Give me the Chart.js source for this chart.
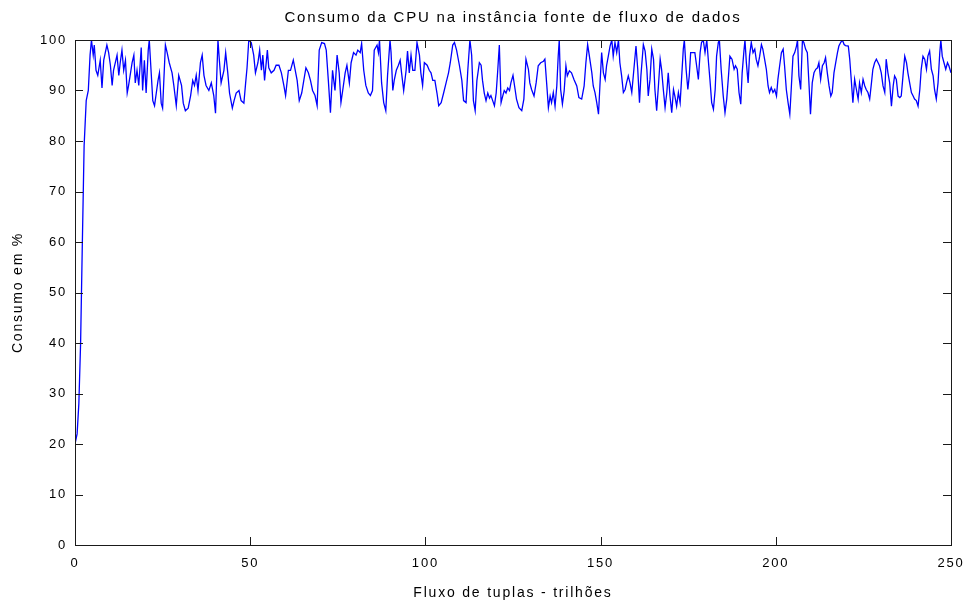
<!DOCTYPE html>
<html>
<head>
<meta charset="utf-8">
<script src="https://cdn.jsdelivr.net/npm/chart.js@4/dist/chart.umd.min.js"></script>
<style>
  html, body { margin: 0; padding: 0; background: #fff; }
  canvas { display: block; }
</style>
</head>
<body>
<canvas id="cpuChart" width="969" height="605"></canvas>
<script>
const chartTitle = 'Consumo da CPU na instância fonte de fluxo de dados';
const xTitle = 'Fluxo de tuplas - trilhões';
const yTitle = 'Consumo em %';

const xTicks = [0, 50, 100, 150, 200, 250];
const yTicks = [0, 10, 20, 30, 40, 50, 60, 70, 80, 90, 100];

// tuple flow (trillions)
const flowValues = [
  0, 0.6, 1.1, 1.6, 2.1, 2.6, 3.2, 3.8, 4.3, 4.7,
  5.2, 5.5, 6, 6.5, 7.2, 7.7, 8.2, 9.1, 9.6, 10.1,
  10.6, 11, 12, 12.5, 12.9, 13.4, 13.9, 14.4, 14.9, 15.3,
  16.3, 16.8, 17.2, 17.7, 18.2, 18.9, 19.3, 19.8, 20.3, 20.9,
  21.2, 21.7, 22.2, 22.7, 23.2, 23.7, 24.1, 24.6, 25, 25.8,
  26.3, 26.9, 27.7, 28.2, 28.9, 29.6, 30.4, 30.9, 31.5, 32.3,
  33, 33.6, 34.1, 34.6, 35.1, 35.8, 36.3, 36.8, 37.4, 38.2,
  38.9, 39.6, 40.1, 40.8, 41.2, 41.7, 42.5, 43, 43.6, 44.1,
  44.9, 45.4, 46, 46.8, 47.4, 48.2, 48.7, 49.1, 49.6, 50.3,
  51, 51.5, 52.2, 52.7, 53.2, 53.6, 54.1, 54.9, 55.3, 56,
  56.8, 57.4, 58.2, 58.9, 59.6, 60.1, 60.9, 61.5, 62.3, 63.4,
  64, 64.7, 65.3, 65.9, 66.6, 67.2, 67.8, 68.5, 69.1, 69.7,
  70.4, 71.2, 71.7, 72.3, 72.9, 73.5, 74.2, 74.8, 75.4, 75.9,
  76.4, 77.1, 77.6, 78.3, 78.8, 79.5, 80.2, 80.7, 81.4, 81.8,
  82.4, 83, 83.7, 84.3, 84.9, 85.4, 86.2, 86.6, 86.9, 87.5,
  88.1, 88.7, 89.2, 89.9, 90.2, 90.7, 91.1, 91.7, 92.3, 92.8,
  93.2, 93.8, 94.5, 94.9, 95.4, 95.9, 96.4, 97, 97.6, 98.3,
  98.7, 99.2, 99.7, 100.5, 101.1, 101.6, 102.1, 102.7, 103.3, 103.8,
  104.5, 105.2, 105.9, 106.6, 107.1, 107.8, 108.3, 108.9, 109.7, 110.4,
  110.9, 111.6, 112.1, 112.7, 113.2, 113.7, 114.2, 114.7, 115.4, 115.9,
  116.3, 116.8, 117.3, 117.8, 118.3, 118.7, 119.2, 119.7, 120.2, 120.6,
  121.1, 121.6, 122.1, 122.5, 123, 123.5, 124, 124.4, 125, 125.6,
  126, 126.7, 127.5, 128.1, 128.7, 129.4, 129.8, 130.3, 131, 131.6,
  132.2, 132.9, 133.7, 134.1, 134.6, 135.1, 135.6, 136, 136.5, 137,
  137.5, 137.9, 138.2, 138.6, 139.1, 139.6, 140.1, 140.5, 141.1, 141.7,
  142.4, 143.2, 143.8, 144.6, 145.3, 145.8, 146.3, 146.8, 147.5, 147.9,
  148.4, 148.9, 149.4, 149.8, 150.3, 150.8, 151.3, 151.7, 152.2, 152.7,
  153.2, 153.6, 154.1, 154.6, 155.1, 155.5, 156, 156.5, 157, 157.4,
  157.9, 158.4, 158.9, 159.5, 160.1, 160.6, 161.1, 161.5, 162.2, 162.7,
  163.2, 163.6, 164.1, 164.6, 165.1, 165.5, 166, 166.5, 167, 167.4,
  167.9, 168.4, 168.9, 169.3, 169.8, 170.3, 170.8, 171.2, 171.7, 172.2,
  172.7, 173.1, 173.6, 173.9, 174.4, 174.9, 175.3, 175.7, 176.3, 176.9,
  177.4, 177.9, 178.4, 178.8, 179.3, 179.8, 180.3, 180.8, 181.2, 181.7,
  182.2, 182.7, 183.1, 183.6, 183.9, 184.4, 185, 185.5, 186, 186.5,
  186.9, 187.5, 188.1, 188.5, 189, 189.5, 190, 190.4, 190.9, 191.2,
  191.6, 192.1, 192.5, 193, 193.5, 194, 194.4, 194.9, 195.4, 195.9,
  196.3, 196.8, 197.3, 197.8, 198.2, 198.7, 199.2, 199.7, 200.2, 200.6,
  201.1, 201.6, 202.1, 202.5, 203, 203.5, 204, 204.4, 204.9, 205.4,
  205.9, 206.2, 206.6, 207.1, 207.6, 208, 208.5, 209, 209.5, 209.9,
  210.4, 210.9, 211.4, 211.9, 212.3, 212.8, 213.3, 213.8, 214.2, 214.7,
  215.2, 215.7, 216.1, 216.6, 217.1, 217.6, 218, 218.5, 219, 219.5,
  219.9, 220.7, 221.1, 221.6, 222, 222.5, 223, 223.5, 223.9, 224.4,
  224.9, 225.4, 225.8, 226.3, 226.8, 227.3, 227.7, 228.2, 228.7, 229.2,
  229.6, 230.1, 230.6, 231.1, 231.5, 232, 232.5, 233, 233.5, 233.9,
  234.4, 234.9, 235.4, 235.8, 236.3, 236.8, 237.3, 237.7, 238.2, 238.7,
  239.2, 239.6, 240.1, 240.6, 241.1, 241.5, 242, 242.5, 243, 243.4,
  243.9, 244.4, 244.9, 245.3, 245.8, 246.3, 246.8, 247.1, 247.5, 248,
  248.5, 249, 249.4, 250
];

// CPU usage (%) at each flow value above
const cpuValues = [
  20, 22, 28, 40, 60, 79, 88, 90, 97, 100,
  97, 99, 94, 93, 96, 90.5, 96, 99, 97.5, 95,
  91, 94, 97, 93, 95.5, 98, 94, 96, 89.5, 91,
  95.5, 97, 91.5, 94, 91, 98.5, 90, 96, 89.5, 98,
  100, 94, 88, 87, 89.5, 92, 93.5, 87.5, 86.5, 99,
  97.5, 95.5, 93.5, 91, 87, 93, 91, 87.5, 86, 86.5,
  89, 92, 91, 93, 90, 95.5, 97, 93, 91, 90,
  91.5, 89, 85.5, 100, 96, 91.5, 94, 97.5, 93.5, 89.5,
  86.5, 88, 89.5, 90, 88, 87.5, 91.5, 94.5, 100, 99.5,
  97, 93.5, 95.5, 98, 94, 97, 92, 98, 94.5, 93.5,
  94, 95, 95, 93.5, 91, 89, 94, 94, 96, 92,
  88, 89.5, 92, 94.5, 93.5, 92, 90, 89, 87, 98,
  99.5, 99.3, 98, 92, 85.6, 94, 90, 97, 93.5, 87.6,
  90, 93.5, 95, 91.5, 95.5, 97.5, 97, 98, 97.5, 99.3,
  94, 91, 89.5, 89, 90, 98, 99, 97.5, 100, 91.5,
  87.6, 86, 93, 100, 97.5, 90, 92, 94, 95, 96,
  93.5, 90, 94, 97.8, 93.5, 97, 94, 94, 99.5, 97,
  93.5, 91, 95.5, 95, 94, 93.5, 92, 92, 89.5, 87,
  87.6, 89.5, 91.5, 93.5, 95.5, 99, 99.5, 98, 95, 92,
  88, 87.6, 94, 100, 97, 88, 86, 92, 95.5, 95,
  92, 89.5, 88, 89.5, 88.5, 89, 88, 87, 89.5, 93.5,
  99, 87.6, 89, 90, 89.5, 90.5, 90, 91.5, 93, 90.2,
  88.3, 86.6, 86, 88.3, 96.2, 94.2, 91.5, 90.2, 88.9, 91.5,
  94.9, 95.5, 95.8, 96.2, 91.5, 86.6, 88.9, 87.6, 89.6, 86.9,
  90.9, 96.8, 100, 90.2, 87.3, 89.9, 94.9, 92.9, 93.9, 93.5,
  92.2, 90.9, 88.6, 88.3, 90.9, 95.5, 99.1, 96.8, 93.5, 90.9,
  89.6, 87.6, 85.3, 90.9, 97.5, 93.5, 92.2, 94.9, 96.8, 98.8,
  100, 96.8, 99.5, 97.5, 100, 95.5, 92.9, 89.6, 90.2, 91.5,
  92.9, 91.5, 89.6, 94.2, 98.8, 94.2, 87.6, 92.9, 99.1, 97.8,
  94.2, 88.9, 92.2, 98.2, 96.2, 90.2, 86, 90.9, 96.2, 94.2,
  90.2, 86.6, 89.6, 93.5, 88.9, 85.6, 90.2, 88.9, 86.9, 89.6,
  87.6, 92.2, 98.2, 100, 94.2, 90.2, 92.9, 97.5, 97.5, 97.5,
  94.9, 92.2, 97.5, 99.5, 100, 97.5, 100, 95.5, 92.2, 87.6,
  86.3, 90.2, 96.8, 99.5, 100, 94.2, 88.9, 85.6, 88.3, 92.9,
  96.8, 96.2, 94.2, 94.9, 94.2, 89.6, 87.3, 93.5, 97.8, 100,
  95.5, 91.5, 96.8, 99.5, 97.5, 98.2, 96.2, 94.9, 96.8, 99.1,
  98.2, 96.2, 94.2, 90.9, 89.6, 90.6, 89.6, 90.2, 88.9, 92.2,
  94.9, 97.5, 98.2, 94.9, 90.2, 87.6, 85.3, 90.2, 96.8, 97.5,
  98.8, 100, 92.9, 90.2, 100, 99.5, 98.2, 97.5, 90.9, 85.3,
  91.5, 93.5, 94.2, 94.5, 95.5, 92.2, 94.9, 95.5, 96.5, 93.5,
  90.9, 88.9, 89.6, 93.5, 95.5, 97.5, 98.8, 99.5, 100, 99.1,
  98.9, 98.8, 96.2, 91.5, 87.6, 92.2, 90.2, 88.3, 91.5, 89.6,
  92.2, 90.9, 90.2, 89.6, 88.3, 91.5, 94.2, 95.5, 96.2, 95.5,
  94.9, 93.5, 90.9, 89.6, 96.2, 93.5, 91.5, 86.9, 90.9, 92.9,
  92.2, 88.9, 88.6, 88.9, 92.9, 96.8, 95.5, 93.5, 91.5, 89.6,
  88.9, 88.3, 88, 86.9, 90.2, 94.2, 96.8, 96.2, 94.2, 96.8,
  97.8, 94.2, 92.9, 90.2, 88.3, 91.5, 97.5, 100, 96.8, 95.5,
  94.2, 95.5, 94.9, 93.5
];

const FONT = "'Liberation Sans', Arial, Helvetica, sans-serif";
Chart.defaults.font.family = FONT;
Chart.defaults.font.size = 13;
Chart.defaults.color = '#000';

// MATLAB look: spaced-out text
const spacingPlugin = {
  id: 'spacing',
  beforeUpdate(chart) { chart.ctx.letterSpacing = '1.8px'; },
  beforeRender(chart) { chart.ctx.letterSpacing = '1.8px'; }
};

// box round the axes with ticks pointing inward on all four sides
const boxPlugin = {
  id: 'matlabBox',
  afterDatasetsDraw(chart) {
    const { ctx, chartArea: a, scales } = chart;
    const len = 8;
    ctx.save();
    ctx.strokeStyle = '#1a1a1a';
    ctx.lineWidth = 1;
    ctx.beginPath();
    xTicks.forEach((v) => {
      const px = Math.round(scales.x.getPixelForValue(v)) + 0.5;
      ctx.moveTo(px, a.bottom);
      ctx.lineTo(px, a.bottom - len);
      ctx.moveTo(px, a.top);
      ctx.lineTo(px, a.top + len);
    });
    yTicks.forEach((v) => {
      const py = Math.round(scales.y.getPixelForValue(v)) + 0.5;
      ctx.moveTo(a.left, py);
      ctx.lineTo(a.left + len, py);
      ctx.moveTo(a.right, py);
      ctx.lineTo(a.right - len, py);
    });
    ctx.stroke();
    ctx.strokeRect(Math.round(a.left) + 0.5, Math.round(a.top) + 0.5,
      Math.round(a.right - a.left), Math.round(a.bottom - a.top));
    ctx.restore();
  }
};

const chart = new Chart(document.getElementById('cpuChart'), {
  type: 'line',
  data: {
    datasets: [{
      data: flowValues.map((x, i) => ({ x, y: cpuValues[i] })),
      borderColor: '#0000ff',
      borderWidth: 1.3,
      pointRadius: 0,
      tension: 0,
      fill: false
    }]
  },
  options: {
    responsive: false,
    animation: false,
    devicePixelRatio: 1,
    layout: { padding: { left: 0, right: 18, top: 0, bottom: 0 } },
    plugins: {
      legend: { display: false },
      tooltip: { enabled: false },
      title: {
        display: true,
        text: chartTitle,
        fullSize: false,
        color: '#000',
        font: { size: 15, weight: 'normal' },
        padding: { top: 9, bottom: 13 }
      }
    },
    scales: {
      x: {
        type: 'linear',
        min: 0,
        max: 250,
        afterBuildTicks: (scale) => { scale.ticks = xTicks.map((v) => ({ value: v })); },
        afterFit: (scale) => { scale.height = 60; scale.paddingLeft = 0; scale.paddingRight = 0; },
        grid: { display: false, drawTicks: false },
        border: { display: false },
        ticks: { padding: 11, maxRotation: 0, color: '#000' },
        title: { display: true, text: xTitle, color: '#000', font: { size: 14 }, padding: { top: 0, bottom: 3 } }
      },
      y: {
        min: 0,
        max: 100,
        afterBuildTicks: (scale) => { scale.ticks = yTicks.map((v) => ({ value: v })); },
        afterFit: (scale) => { scale.width = 75; scale.paddingTop = 0; scale.paddingBottom = 0; },
        grid: { display: false, drawTicks: false },
        border: { display: false },
        ticks: { padding: 8, color: '#000' },
        title: { display: true, text: yTitle, color: '#000', font: { size: 14 }, padding: { top: 10, bottom: 0 } }
      }
    }
  },
  plugins: [spacingPlugin, boxPlugin]
});
</script>
</body>
</html>
